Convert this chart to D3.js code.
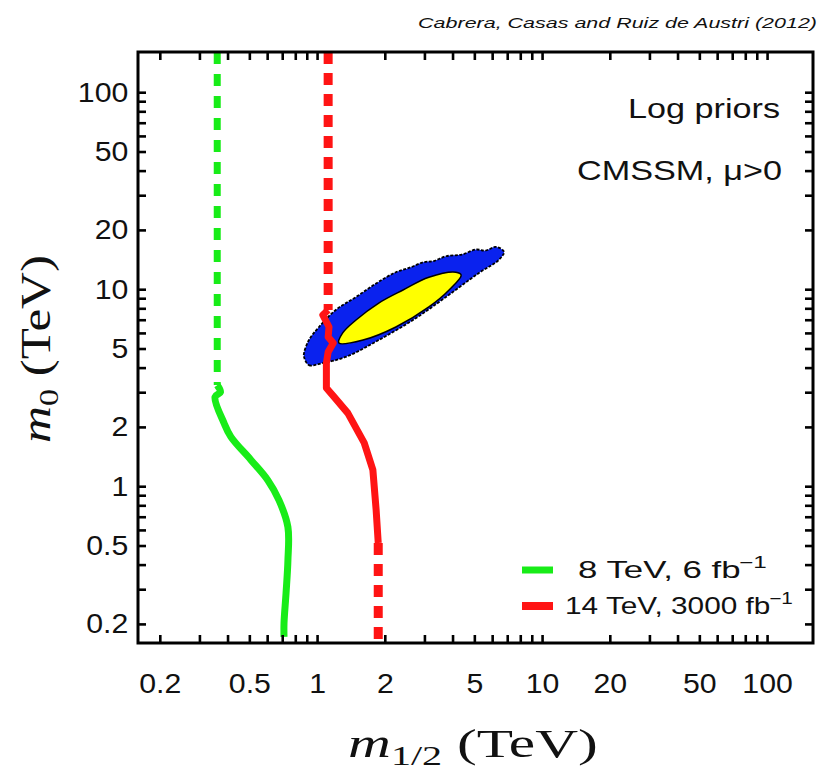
<!DOCTYPE html>
<html><head><meta charset="utf-8">
<script src="https://cdn.jsdelivr.net/npm/d3@7"></script>
<style>body{margin:0;background:#fff}svg{display:block}</style>
</head><body><svg id="c" width="822" height="773"></svg>
<script>
// ---------- data ----------
const xDomain = [0.16, 160];           // m_1/2 (TeV)
const yDomain = [0.16, 160];           // m_0 (TeV)
const tickLabels = [0.2, 0.5, 1, 2, 5, 10, 20, 50, 100];

// 8 TeV, 6 fb^-1 exclusion line
const green8Dashed = [[0.36, 160], [0.36, 3.26]];
const green8Solid = [[0.36, 3.26], [0.372, 3.0], [0.352, 2.84], [0.386, 2.09], [0.414, 1.78],
  [0.508, 1.36], [0.605, 1.07], [0.677, 0.85], [0.742, 0.62], [0.742, 0.42],
  [0.728, 0.287], [0.713, 0.202], [0.713, 0.172]];

// 14 TeV, 3000 fb^-1 reach line
const red14DashedTop = [[1.12, 160], [1.12, 7.84]];
const red14Solid = [[1.12, 7.84], [1.06, 7.40], [1.13, 6.43], [1.12, 5.72], [1.18, 5.33],
  [1.12, 4.80], [1.10, 4.22], [1.10, 3.15], [1.19, 2.84], [1.37, 2.35], [1.62, 1.66],
  [1.77, 1.21], [1.83, 0.76], [1.87, 0.515]];
const red14DashedBottom = [[1.87, 0.515], [1.87, 0.16]];

// posterior credible regions (outer = 95%, inner = 68%)
const region95 = [[0.875, 4.53], [0.92, 4.12], [1.06, 4.22], [1.34, 4.53], [1.88, 5.52],
  [2.67, 6.98], [3.74, 9.13], [5.24, 12.1], [6.43, 14.1], [6.77, 15.5], [6.24, 16.4],
  [5.6, 15.7], [5.09, 15.9], [4.4, 15.0], [3.74, 14.7], [3.3, 13.9], [2.96, 13.7],
  [2.6, 12.9], [2.24, 12.2], [1.83, 10.7], [1.49, 9.13],
  [1.21, 7.84], [1.02, 6.43], [0.92, 5.52], [0.875, 4.74]];
const region68 = [[1.25, 5.33], [1.6, 5.52], [2.24, 6.43], [3.14, 8.13], [3.86, 9.91],
  [4.37, 11.8], [4.14, 12.2], [3.14, 11.5], [2.41, 9.91], [1.88, 8.51], [1.49, 6.98], [1.30, 6.0]];

const legendLabels = ["8 TeV, 6 fb", "14 TeV, 3000 fb"];
const legendColors = ["#18ec18", "#ff1414"];

// ---------- drawing ----------
const svg = d3.select("#c");
const L = 138, R = 813, T = 52, B = 643;
const x = d3.scaleLog().domain(xDomain).range([L, R]);
const y = d3.scaleLog().domain(yDomain).range([B, T]);

svg.append("defs").append("clipPath").attr("id", "clip")
  .append("rect").attr("x", L).attr("y", T).attr("width", R - L).attr("height", B - T);

const plot = svg.append("g").attr("clip-path", "url(#clip)");

const area = d3.line().x(d => x(d[0])).y(d => y(d[1])).curve(d3.curveCatmullRomClosed.alpha(0.5));
plot.append("path").attr("d", area(region95)).attr("fill", "#0a22ee")
  .attr("stroke", "#000").attr("stroke-width", 1.8).attr("stroke-dasharray", "3,1.5");
plot.append("path").attr("d", area(region68)).attr("fill", "#ffff00")
  .attr("stroke", "#000").attr("stroke-width", 1.5);

const lin = d3.line().x(d => x(d[0])).y(d => y(d[1]));
const smooth = d3.line().x(d => x(d[0])).y(d => y(d[1])).curve(d3.curveCatmullRom.alpha(0.5));

plot.append("path").attr("d", lin(green8Dashed)).attr("fill", "none")
  .attr("stroke", legendColors[0]).attr("stroke-width", 7).attr("stroke-dasharray", "12,10");
plot.append("path").attr("d", smooth(green8Solid)).attr("fill", "none")
  .attr("stroke", legendColors[0]).attr("stroke-width", 7).attr("stroke-linejoin", "round");

plot.append("path").attr("d", lin(red14DashedTop)).attr("fill", "none")
  .attr("stroke", legendColors[1]).attr("stroke-width", 9).attr("stroke-dasharray", "12,9");
plot.append("path").attr("d", lin(red14Solid)).attr("fill", "none")
  .attr("stroke", legendColors[1]).attr("stroke-width", 7).attr("stroke-linejoin", "round");
plot.append("path").attr("d", lin(red14DashedBottom)).attr("fill", "none")
  .attr("stroke", legendColors[1]).attr("stroke-width", 9).attr("stroke-dasharray", "12,9");

// ---------- axes ----------
const isLabel = d => tickLabels.some(t => Math.abs(d - t) < 1e-6 * t);
const fmt = d => isLabel(d) ? d3.format("~g")(d) : "";
const xt = x.ticks(), yt = y.ticks();

function styleAxis(g) {
  g.select(".domain").remove();
  g.selectAll(".tick line").attr("stroke", "#000").attr("stroke-width", 2.6);
  g.selectAll("text").attr("fill", "#111").style("font-family", "'Liberation Sans', Arial, sans-serif")
    .style("font-size", "28px").attr("transform", "scale(1.08,1)");
}
svg.append("g").attr("transform", `translate(0,${B})`)
  .call(d3.axisBottom(x).tickValues(xt).tickSize(-8).tickPadding(30).tickFormat(fmt)).call(styleAxis);
svg.append("g").attr("transform", `translate(0,${T})`)
  .call(d3.axisTop(x).tickValues(xt).tickSize(-8).tickFormat("")).call(styleAxis);
svg.append("g").attr("transform", `translate(${L},0)`)
  .call(d3.axisLeft(y).tickValues(yt).tickSize(-8).tickPadding(9).tickFormat(fmt)).call(styleAxis);
svg.append("g").attr("transform", `translate(${R},0)`)
  .call(d3.axisRight(y).tickValues(yt).tickSize(-8).tickFormat("")).call(styleAxis);

svg.append("rect").attr("x", L).attr("y", T).attr("width", R - L).attr("height", B - T)
  .attr("fill", "none").attr("stroke", "#000").attr("stroke-width", 3);

// ---------- texts ----------
function addText(px, py, anchor, targetW, size, family, build, rotate) {
  const g = svg.append("g").attr("transform", `translate(${px},${py})` + (rotate ? " rotate(-90)" : ""));
  const t = g.append("text").attr("text-anchor", anchor).attr("fill", "#111")
    .style("font-size", size + "px").style("font-family", family);
  build(t);
  const w = t.node().getBBox().width;
  t.attr("transform", `scale(${targetW / w},1)`);
  return t;
}
const sans = "'Liberation Sans', Arial, sans-serif";
const serif = "'Liberation Serif', 'Times New Roman', serif";

addText(817, 28, "end", 399, 15, sans, t => t.style("font-style", "italic")
  .text("Cabrera, Casas and Ruiz de Austri (2012)"));
addText(780, 118, "end", 152, 27, sans, t => t.text("Log priors"));
addText(782, 180, "end", 205, 27, sans, t => t.text("CMSSM, μ>0"));

// legend
const legY = [570, 606];
legendLabels.forEach((lab, i) => {
  svg.append("line").attr("x1", 522).attr("x2", 553).attr("y1", legY[i]).attr("y2", legY[i])
    .attr("stroke", legendColors[i]).attr("stroke-width", i === 0 ? 7 : 8);
});
addText(578, 578, "start", 189, 23, sans, t => {
  t.append("tspan").text(legendLabels[0]);
  t.append("tspan").attr("dx", -1).attr("dy", -10).style("font-size", "16px").text("−1");
});
addText(565, 614, "start", 228, 23, sans, t => {
  t.append("tspan").text(legendLabels[1]);
  t.append("tspan").attr("dx", -1).attr("dy", -10).style("font-size", "16px").text("−1");
});

// axis titles
addText(348, 757, "start", 250, 40, serif, t => {
  t.append("tspan").style("font-style", "italic").text("m");
  t.append("tspan").attr("dy", 8).style("font-size", "27px").text("1/2");
  t.append("tspan").attr("dy", -8).text(" (TeV)");
});
addText(50, 443, "start", 188, 42, serif, t => {
  t.append("tspan").style("font-style", "italic").text("m");
  t.append("tspan").attr("dy", 8).style("font-size", "28px").text("0");
  t.append("tspan").attr("dy", -8).text(" (TeV)");
}, true);
</script>
</body></html>
